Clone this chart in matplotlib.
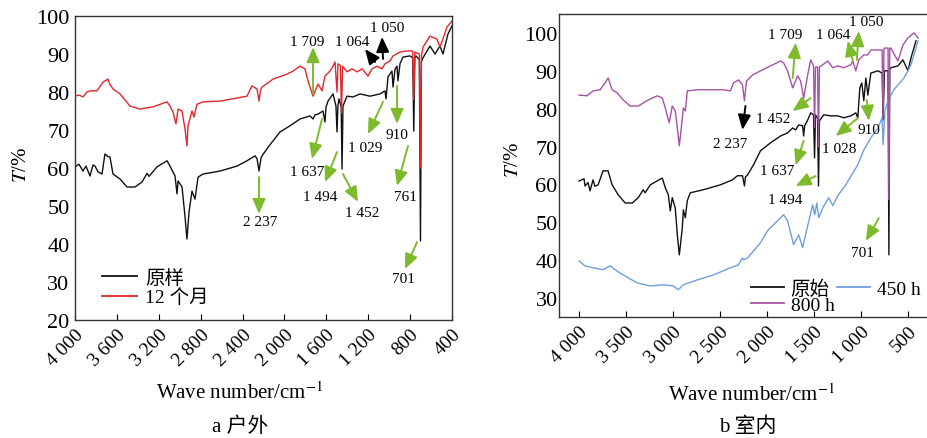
import numpy as np
import matplotlib
matplotlib.use("Agg")
import matplotlib.pyplot as plt

plt.rcParams['font.family'] = ['Liberation Serif', 'Noto Sans CJK SC', 'DejaVu Sans']
plt.rcParams['mathtext.fontset'] = 'stix'

# ---------------- data (wavenumber, T%) ----------------
a_orig = [(4000,60.3),(3962,61.0),(3924,59.2),(3895,60.5),(3857,57.9),(3828,60.8),(3809,60.5),(3780,59.0),
          (3742,58.4),(3714,63.7),(3685,63.0),(3666,62.9),(3637,58.4),(3570,57.1),(3503,55.0),(3427,55.0),
          (3360,56.3),(3312,58.6),(3293,57.8),(3217,60.3),(3121,61.9),(3093,60.5),(3045,57.9),(3026,53.2),
          (3016,56.6),(2978,55.0),(2950,47.4),(2931,41.3),(2911,48.4),(2883,53.9),(2854,51.8),(2825,57.6),
          (2778,58.4),(2615,59.2),(2453,60.5),(2358,61.9),(2281,63.2),(2262,62.5),(2243,59.2),(2224,62.6),
          (2214,63.2),(2147,65.8),(2042,69.5),(1947,71.1),(1851,72.9),(1756,73.7),(1727,72.9),(1708,74.0),
          (1679,74.2),(1632,75.0),(1613,72.1),(1603,76.0),(1584,77.6),(1536,79.5),(1508,76.3),(1498,69.5),
          (1489,76.5),(1479,78.2),(1458,76.0),(1450,59.7),(1441,76.3),(1403,78.9),(1345,78.7),(1278,79.5),
          (1183,78.9),(1088,79.5),(1040,80.3),(1030,78.2),(1011,84.0),(973,85.5),(963,81.3),(944,86.0),
          (925,86.8),(916,82.9),(896,87.5),(868,89.2),(801,89.5),(775,89.0),(765,69.7),(755,89.0),
          (744,89.5),(712,88.5),(701,40.8),(692,88.0),(677,89.0),(610,92.1),(562,90.0),(515,92.1),
          (486,90.0),(438,95.3),(400,97.4)]

a_12m = [(4000,78.9),(3962,79.2),(3924,78.7),(3885,80.0),(3857,80.3),(3790,80.3),(3760,81.5),(3733,82.6),
         (3685,83.4),(3666,82.0),(3637,80.8),(3570,79.5),(3475,76.3),(3379,75.5),(3255,76.1),(3121,77.4),
         (3093,76.3),(3064,74.7),(3036,71.6),(3016,75.5),(2978,75.0),(2950,70.3),(2931,65.8),(2921,71.1),
         (2883,75.0),(2864,73.4),(2835,76.8),(2778,77.4),(2615,77.6),(2396,78.7),(2358,78.9),(2310,81.6),
         (2262,80.8),(2243,77.6),(2228,80.5),(2214,81.3),(2147,82.6),(2109,83.4),(1976,84.7),(1918,85.5),
         (1851,86.8),(1804,86.1),(1775,82.9),(1727,78.9),(1679,82.1),(1641,80.3),(1613,84.2),(1565,85.5),
         (1536,86.8),(1517,87.9),(1498,80.0),(1489,87.4),(1466,87.0),(1455,74.5),(1445,86.8),(1403,85.3),
         (1355,86.1),(1307,85.3),(1259,86.1),(1202,84.2),(1164,86.1),(1116,86.8),(1069,86.1),(1040,87.4),
         (992,88.2),(963,89.5),(896,90.5),(830,90.8),(775,90.8),(765,78.0),(755,90.5),(712,90.0),
         (701,60.0),(692,89.5),(677,91.8),(610,94.7),(543,93.9),(515,91.8),(486,94.0),(448,97.1),(400,98.7)]

b_orig = [(4000,60.9),(3947,61.5),(3936,59.6),(3904,60.5),(3883,58.3),(3851,61.2),(3830,59.5),(3797,59.9),
          (3744,63.6),(3691,63.6),(3648,59.9),(3584,57.3),(3509,55.1),(3434,55.1),(3370,56.5),(3317,58.6),
          (3296,57.8),(3242,59.9),(3114,61.7),(3082,59.1),(3050,57.3),(3029,53.0),(3008,56.5),(2976,53.8),
          (2954,46.7),(2933,41.4),(2901,48.5),(2890,53.3),(2869,51.2),(2848,55.7),(2816,57.8),(2677,58.6),
          (2496,59.9),(2368,61.2),(2314,62.3),(2261,62.3),(2240,59.6),(2229,62.0),(2207,62.5),(2143,65.2),
          (2069,68.9),(1962,71.0),(1855,72.8),(1781,73.6),(1727,74.9),(1695,74.4),(1663,75.7),(1621,75.5),
          (1610,72.8),(1599,75.5),(1567,77.0),(1535,78.9),(1505,78.4),(1494,67.0),(1484,78.4),(1462,77.5),
          (1452,59.6),(1442,76.8),(1396,78.4),(1322,78.1),(1247,78.1),(1183,77.6),(1108,78.1),(1055,78.9),
          (1034,77.6),(1012,85.5),(991,86.8),(970,82.1),(948,88.1),(927,83.6),(895,89.4),(820,90.0),
          (775,89.4),(765,77.0),(750,90.0),(712,90.0),(703,41.4),(694,90.5),(682,90.8),(607,91.3),
          (554,92.9),(500,90.0),(468,93.4),(415,97.9)]

b_800 = [(4000,83.6),(3915,83.4),(3851,84.7),(3776,85.0),(3723,86.8),(3690,88.1),(3648,85.0),(3595,84.2),
         (3530,82.3),(3456,80.7),(3370,80.7),(3317,81.5),(3264,82.3),(3168,83.4),(3114,82.8),(3082,80.2),
         (3061,78.1),(3040,76.3),(3008,80.7),(2976,79.4),(2954,74.9),(2933,70.2),(2912,74.9),(2890,80.2),
         (2869,79.4),(2848,84.7),(2741,85.0),(2602,85.0),(2464,85.0),(2389,84.7),(2357,86.8),(2303,87.6),
         (2261,86.3),(2240,82.1),(2218,87.3),(2154,88.9),(2069,90.0),(1962,91.3),(1855,92.6),(1823,92.1),
         (1781,90.0),(1727,85.5),(1674,88.7),(1642,87.3),(1610,82.8),(1567,88.9),(1535,92.9),(1505,91.3),
         (1494,75.0),(1484,91.0),(1462,91.0),(1452,70.0),(1442,91.0),(1407,91.6),(1354,92.6),(1300,90.8),
         (1247,91.3),(1183,90.8),(1108,91.6),(1087,92.6),(1055,90.0),(1023,92.9),(970,94.2),(927,94.2),
         (895,95.5),(820,95.5),(775,95.5),(765,78.0),(755,96.0),(712,96.0),(703,56.0),(694,96.0),
         (682,96.0),(607,92.6),(554,96.8),(500,98.7),(436,100.0),(393,98.7)]

b_450 = [(4000,39.8),(3936,38.5),(3851,38.0),(3744,37.5),(3669,38.5),(3616,37.5),(3530,36.1),(3381,34.0),
         (3242,33.2),(3104,33.5),(2997,33.2),(2944,32.2),(2890,33.5),(2741,34.8),(2570,36.1),(2389,38.0),
         (2304,38.8),(2261,40.6),(2250,40.1),(2207,40.6),(2069,44.6),(1994,47.8),(1823,52.0),(1781,50.4),
         (1717,44.1),(1663,46.7),(1621,43.3),(1567,49.1),(1514,54.6),(1492,52.0),(1470,55.1),(1450,51.2),
         (1407,53.8),(1343,56.5),(1300,54.4),(1247,57.0),(1162,59.9),(1034,65.2),(970,69.1),(895,72.3),
         (820,74.9),(775,77.6),(765,70.5),(745,79.4),(714,82.1),(650,85.0),(543,88.1),(468,91.6),(393,97.9)]

a_xticks = [4000, 3600, 3200, 2800, 2400, 2000, 1600, 1200, 800, 400]
a_xticklabels = ["4 000", "3 600", "3 200", "2 800", "2 400", "2 000", "1 600", "1 200", "800", "400"]
a_yticks = [20, 30, 40, 50, 60, 70, 80, 90, 100]
b_xticks = [4000, 3500, 3000, 2500, 2000, 1500, 1000, 500]
b_xticklabels = ["4 000", "3 500", "3 000", "2 500", "2 000", "1 500", "1 000", "500"]
b_yticks = [30, 40, 50, 60, 70, 80, 90, 100]

# annotations: label, text (wn, T), arrow tail, arrow head, colour key
a_ann = [("1 709", (1785, 93.2), (1727, 79.5), (1727, 91.8), 'g'),
         ("1 064", (1355, 93.4), (1135, 87.9), (1231, 91.3), 'k'),
         ("1 050", (1021, 97.1), (1059, 88.7), (1068, 94.5), 'k'),
         ("1 637", (1785, 59.2), (1641, 72.9), (1737, 62.4), 'g'),
         ("1 494", (1660, 52.6), (1498, 64.2), (1613, 56.3), 'g'),
         ("1 452", (1259, 48.4), (1441, 58.4), (1298, 51.1), 'g'),
         ("1 029", (1231, 65.5), (1059, 77.4), (1202, 68.9), 'g'),
         ("910", (925, 68.9), (925, 81.6), (925, 71.6), 'g'),
         ("761", (849, 52.6), (820, 65.8), (925, 55.3), 'g'),
         ("2 237", (2233, 45.8), (2243, 57.6), (2243, 47.9), 'g'),
         ("701", (868, 30.8), (734, 40.5), (849, 33.4), 'g')]

b_ann = [("1 709", (1802, 99.5), (1727, 88.1), (1695, 97.4), 'g'),
         ("1 064", (1300, 99.5), (1087, 92.6), (1140, 97.9), 'g'),
         ("1 050", (948, 102.9), (1044, 92.9), (1023, 100.5), 'g'),
         ("1 452", (1930, 77.5), (1535, 82.8), (1727, 79.4), 'g'),
         ("2 237", (2389, 70.9), (2229, 80.7), (2261, 74.4), 'k'),
         ("1 028", (1236, 69.6), (1034, 77.5), (1268, 72.8), 'g'),
         ("910", (916, 74.4), (938, 82.3), (916, 76.8), 'g'),
         ("1 637", (1887, 63.6), (1610, 71.5), (1695, 65.1), 'g'),
         ("1 494", (1802, 55.9), (1482, 62.2), (1695, 59.6), 'g'),
         ("701", (980, 41.9), (810, 51.1), (948, 45.1), 'g')]

# ---------------- styling ----------------
C_BLACK = '#111111'
C_RED = '#e3262c'
C_PURPLE = '#a653a6'
C_BLUE = '#6f9fe0'
C_GREEN = '#7dba2c'
ARROW_C = {'g': C_GREEN, 'k': '#000000'}

W, H = 928, 439
fig = plt.figure(figsize=(W / 100, H / 100), dpi=100)


def ax_rect(x0, y0, x1, y1):
    return [x0 / W, 1 - y1 / H, (x1 - x0) / W, (y1 - y0) / H]


ax1 = fig.add_axes(ax_rect(75, 17, 452, 321))
ax2 = fig.add_axes(ax_rect(559, 15, 931, 318))


def series(ax, data, color, label, z):
    arr = np.array(data, dtype=float)
    return ax.plot(arr[:, 0], arr[:, 1], color=color, lw=1.0, label=label, zorder=z)[0]


series(ax1, a_orig, C_BLACK, "原样", 2)
series(ax1, a_12m, C_RED, "12 个月", 3)
h_o = series(ax2, b_orig, C_BLACK, "原始", 2)
h_450 = series(ax2, b_450, C_BLUE, "450 h", 3)
h_800 = series(ax2, b_800, C_PURPLE, "800 h", 4)

ax1.set_xlim(4000, 400)
ax1.set_ylim(20, 100)
ax2.set_xlim(4213, 255)
ax2.set_ylim(25, 105)

for ax, xt, xl, yt, ypad in [(ax1, a_xticks, a_xticklabels, a_yticks, 4.0),
                             (ax2, b_xticks, b_xticklabels, b_yticks, 1.0)]:
    ax.set_xticks(xt)
    ax.set_xticklabels(xl, rotation=45, ha='right', va='top', rotation_mode='anchor')
    ax.set_yticks(yt)
    ax.tick_params(axis='x', direction='in', length=4, width=0.8, labelsize=14, pad=4)
    ax.tick_params(axis='y', direction='in', length=0, width=0.8, labelsize=16, pad=ypad)
    for s in ax.spines.values():
        s.set_linewidth(1.0)
        s.set_color('#333333')


def annotate(ax, anns):
    for lab, txy, a0, a1, ck in anns:
        ax.text(txy[0], txy[1], lab, ha='center', va='center', fontsize=11, zorder=6)
        ax.annotate('', xy=a1, xytext=a0,
                    arrowprops=dict(arrowstyle='-|>,head_width=0.3,head_length=0.7',
                                    color=ARROW_C[ck], lw=1.4, mutation_scale=13,
                                    shrinkA=0, shrinkB=0), zorder=6)


annotate(ax1, a_ann)
annotate(ax2, b_ann)

leg1 = ax1.legend(loc='upper left', bbox_to_anchor=(92 / W, 1 - 260 / H),
                  bbox_transform=fig.transFigure, frameon=False, fontsize=14,
                  handlelength=1.8, handletextpad=0.45, labelspacing=0.1, borderpad=0)
leg2 = ax2.legend([h_o, h_800, h_450], ["原始", "800 h", "450 h"],
                  loc='upper left', bbox_to_anchor=(741 / W, 1 - 271 / H),
                  bbox_transform=fig.transFigure, frameon=False, fontsize=14,
                  ncol=2, handlelength=1.7, handletextpad=0.35, labelspacing=-0.1,
                  columnspacing=0.15, borderpad=0)
for leg in (leg1, leg2):
    for ln in leg.get_lines():
        ln.set_linewidth(1.3)

# axis labels and captions
fig.text(240 / W, 1 - 393 / H, "Wave number/cm$^{-1}$", ha='center', va='center', fontsize=15)
fig.text(752 / W, 1 - 395 / H, "Wave number/cm$^{-1}$", ha='center', va='center', fontsize=15)
fig.text(22 / W, 1 - 165 / H, "$T$/%", ha='center', va='center', fontsize=15, rotation=90)
fig.text(513 / W, 1 - 160 / H, "$T$/%", ha='center', va='center', fontsize=15, rotation=90)
fig.text(240 / W, 1 - 427 / H, "a 户外", ha='center', va='center', fontsize=15)
fig.text(748 / W, 1 - 427 / H, "b 室内", ha='center', va='center', fontsize=15)

fig.savefig("out.png", dpi=100)
